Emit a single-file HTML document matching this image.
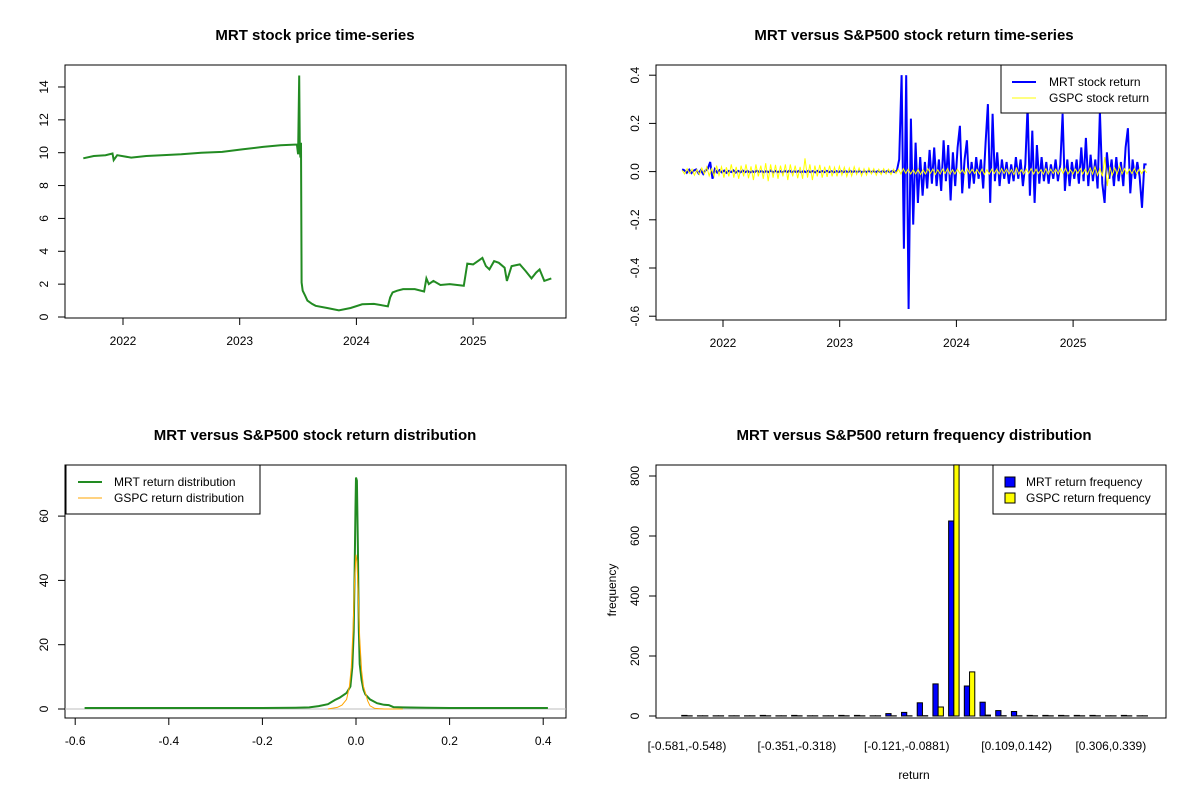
<!DOCTYPE html>
<html><head><meta charset="utf-8"><style>
html,body{margin:0;padding:0;background:#fff}
svg{display:block;font-family:"Liberation Sans",Arial,sans-serif}
.t{font-weight:bold;font-size:15px;text-anchor:middle}
.tk{font-size:12px}
</style></head><body>
<svg id="c" width="1200" height="800" xmlns="http://www.w3.org/2000/svg"></svg>
<script>
// ---------- data ----------
const priceDates=[2021.66,2021.75,2021.85,2021.91,2021.92,2021.95,2022.07,2022.2,2022.33,2022.5,2022.67,2022.85,2023.02,2023.2,2023.35,2023.49,2023.50,2023.51,2023.515,2023.52,2023.525,2023.53,2023.54,2023.56,2023.58,2023.62,2023.65,2023.75,2023.85,2023.95,2024.05,2024.15,2024.27,2024.29,2024.31,2024.35,2024.40,2024.5,2024.58,2024.60,2024.62,2024.66,2024.72,2024.8,2024.92,2024.95,2025.0,2025.08,2025.11,2025.14,2025.18,2025.22,2025.27,2025.29,2025.33,2025.4,2025.45,2025.50,2025.54,2025.57,2025.61,2025.67];
const priceValues=[9.66,9.8,9.85,9.95,9.55,9.85,9.7,9.8,9.85,9.9,10.0,10.05,10.2,10.35,10.45,10.5,9.9,14.7,10.2,9.7,10.6,2.1,1.6,1.3,1.0,0.8,0.68,0.55,0.4,0.55,0.77,0.8,0.65,1.2,1.5,1.6,1.7,1.7,1.55,2.35,2.0,2.2,1.95,2.0,1.9,3.25,3.2,3.6,3.1,2.9,3.4,3.3,3.0,2.2,3.1,3.2,2.8,2.35,2.7,2.9,2.2,2.35];
const retStart=2021.65, retEnd=2025.63;
const mrtReturns=[0.01,0.005,-0.005,0.008,-0.006,0.004,0.009,-0.007,0.006,-0.01,0.005,0.012,0.04,-0.03,0.01,-0.004,0.006,-0.003,0.004,-0.005,0.003,-0.002,0.005,-0.004,0.003,-0.003,0.004,-0.002,0.003,-0.004,0.002,-0.003,0.004,-0.002,0.003,-0.003,0.002,-0.002,0.004,-0.003,0.003,-0.002,0.002,-0.003,0.003,-0.002,0.004,-0.003,0.002,-0.002,0.003,-0.003,0.002,-0.002,0.003,-0.002,0.002,-0.003,0.003,-0.002,0.002,-0.002,0.003,-0.002,0.002,-0.003,0.002,-0.002,0.003,-0.002,0.002,-0.002,0.003,-0.002,0.002,-0.002,0.003,-0.003,0.002,-0.002,0.003,-0.002,0.002,-0.002,0.003,-0.002,0.002,-0.002,0.003,-0.002,0.002,-0.002,0.004,
0.05,0.40,-0.32,0.40,-0.57,0.22,-0.22,0.12,-0.13,0.06,-0.10,0.04,-0.07,0.09,-0.05,0.10,-0.06,0.05,-0.08,0.13,-0.04,0.11,-0.12,0.08,-0.06,0.10,0.19,-0.09,0.05,0.13,-0.07,0.04,-0.05,0.06,-0.03,0.05,-0.07,0.12,0.28,-0.13,0.24,-0.04,0.08,-0.06,0.05,-0.03,0.04,-0.05,0.03,-0.04,0.06,-0.03,0.05,-0.06,0.03,0.27,-0.10,0.17,-0.13,0.11,-0.05,0.06,-0.04,0.04,-0.05,0.03,-0.03,0.05,-0.04,0.03,0.24,-0.08,0.05,-0.06,0.04,-0.03,0.05,-0.05,0.10,-0.04,0.14,-0.06,0.07,-0.04,0.05,-0.07,0.25,-0.05,-0.13,0.08,-0.03,0.05,-0.06,0.06,-0.04,0.04,-0.06,0.10,0.18,-0.09,0.05,-0.03,0.04,-0.02,-0.15,0.03,0.03];
const gspcReturns=[0.005,-0.01,0.012,-0.008,0.01,-0.015,0.008,-0.012,0.015,-0.01,0.02,-0.018,0.012,-0.02,0.025,-0.015,0.02,-0.025,0.018,-0.02,0.03,-0.025,0.02,-0.03,0.025,-0.02,0.03,-0.028,0.022,-0.035,0.03,-0.02,0.025,-0.03,0.035,-0.04,0.03,-0.025,0.028,-0.03,0.025,-0.02,0.03,-0.035,0.03,-0.02,0.025,-0.028,0.02,-0.03,0.055,-0.025,0.03,-0.035,0.025,-0.02,0.028,-0.025,0.02,-0.022,0.025,-0.02,0.018,-0.02,0.022,-0.015,0.018,-0.02,0.015,-0.018,0.02,-0.012,0.015,-0.018,0.012,-0.015,0.015,-0.01,0.012,-0.015,0.01,-0.012,0.012,-0.01,0.01,-0.012,0.01,-0.008,0.01,-0.01,0.012,-0.008,0.01,-0.01,0.008,-0.01,0.01,-0.012,0.008,-0.01,0.012,-0.008,0.01,-0.012,0.008,-0.01,0.01,-0.008,0.012,-0.01,0.008,-0.01,0.01,-0.008,0.008,-0.01,0.012,-0.008,0.01,-0.008,0.008,-0.01,0.01,-0.012,0.008,-0.01,0.01,-0.008,0.01,-0.01,0.012,-0.008,0.01,-0.01,0.008,-0.012,0.015,-0.01,0.008,-0.01,0.01,-0.008,0.012,-0.01,0.01,-0.008,0.008,-0.01,0.012,-0.01,0.01,-0.008,0.01,-0.01,0.012,-0.008,0.015,-0.01,0.008,-0.01,0.01,-0.008,0.012,-0.01,0.01,-0.012,0.015,-0.01,0.02,-0.015,0.012,-0.02,0.06,-0.06,0.02,-0.015,0.015,-0.01,0.025,-0.01,0.012,-0.01,0.01,-0.008,0.012,-0.01,0.01,-0.008,0.01,-0.005];
const densX=[-0.58,-0.5,-0.4,-0.3,-0.2,-0.13,-0.1,-0.08,-0.06,-0.045,-0.035,-0.02,-0.012,-0.008,-0.005,-0.003,-0.001,0,0.002,0.004,0.006,0.008,0.012,0.016,0.02,0.03,0.045,0.06,0.07,0.08,0.1,0.15,0.2,0.3,0.41];
const mrtDensity=[0.3,0.3,0.3,0.3,0.3,0.4,0.5,0.9,1.5,2.8,3.5,5,7,13,24,42,63,72,71,50,25,14,9,6,4.5,3,1.8,1.3,1.2,0.6,0.5,0.4,0.3,0.3,0.3];
const gspcX=[-0.06,-0.04,-0.03,-0.02,-0.014,-0.01,-0.006,-0.003,0,0.002,0.005,0.008,0.012,0.016,0.02,0.025,0.03,0.04,0.06,0.1];
const gspcDensity=[0,0.5,1.2,3,7,13,26,40,48,46,35,22,12,7,5,2.5,1,0.2,0,0];
const mrtCounts=[2,0,0,0,0,2,0,2,0,0,2,2,0,8,12,44,107,650,100,46,18,15,2,2,2,2,2,0,2,0];
const gspcCounts=[0,0,0,0,0,0,0,0,0,0,0,0,0,0,0,1,30,837,147,3,1,0,0,0,0,0,0,0,0,0];
const binLabelIdx=[0,7,14,21,27];
const binLabels=["[-0.581,-0.548)","[-0.351,-0.318)","[-0.121,-0.0881)","[0.109,0.142)","[0.306,0.339)"];
const yearTicks=[2022,2023,2024,2025];

// ---------- helpers ----------
const svg=document.getElementById('c');
const NS='http://www.w3.org/2000/svg';
function mk(tag,attrs,parent){const e=document.createElementNS(NS,tag);for(const k in attrs)e.setAttribute(k,attrs[k]);(parent||svg).appendChild(e);return e;}
function txt(s,x,y,cls,extra,parent){const e=mk('text',Object.assign({x:x,y:y,class:cls},extra||{}),parent);e.textContent=s;return e;}
function box(x0,y0,x1,y1,name){const r=mk('rect',{x:x0,y:y0,width:x1-x0,height:y1-y0,fill:'none',stroke:'#000','stroke-width':1});

}
function yAxis(ticks,fy,x,labels,name){const g=mk('g',{});


mk('line',{x1:x,x2:x,y1:fy(ticks[0]),y2:fy(ticks[ticks.length-1]),stroke:'#000'},g);
ticks.forEach((t,i)=>{const y=fy(t);mk('line',{x1:x-7,x2:x,y1:y,y2:y,stroke:'#000'},g);
txt(labels[i],x-17,y,'tk',{'text-anchor':'middle',transform:`rotate(-90 ${x-17} ${y})`},g);});}
function xAxis(ticks,fx,y,labels,name){const g=mk('g',{});


mk('line',{y1:y,y2:y,x1:fx(ticks[0]),x2:fx(ticks[ticks.length-1]),stroke:'#000'},g);
ticks.forEach((t,i)=>{const x=fx(t);mk('line',{x1:x,x2:x,y1:y,y2:y+7,stroke:'#000'},g);
txt(labels[i],x,y+27,'tk',{'text-anchor':'middle'},g);});}
function line(xs,ys,color,w,name){const p=mk('polyline',{points:xs.map((x,i)=>x.toFixed(1)+','+ys[i].toFixed(1)).join(' '),fill:'none',stroke:color,'stroke-width':w,'stroke-linejoin':'miter'});

}

// ---------- panel 1 ----------
const fx1=v=>123+(v-2022)*116.7, fy1=v=>317-v*16.43;
txt('MRT stock price time-series',315,40,'t');
box(65,65,566,318,'price-plot-frame');
yAxis([0,2,4,6,8,10,12,14],fy1,65,['0','2','4','6','8','10','12','14'],'price-y-axis');
xAxis(yearTicks,fx1,318,yearTicks.map(String),'price-x-axis');
line(priceDates.map(fx1),priceValues.map(fy1),'#228B22',2,'mrt-price-line');

// ---------- panel 2 ----------
const fx2=v=>723+(v-2022)*116.7, fy2=v=>171.6-v*241;
const dateAt=(i,n)=>retStart+(retEnd-retStart)*i/(n-1);
txt('MRT versus S&P500 stock return time-series',914,40,'t');
box(656,65,1166,320,'return-plot-frame');
yAxis([-0.6,-0.4,-0.2,0,0.2,0.4],fy2,656,['-0.6','-0.4','-0.2','0.0','0.2','0.4'],'return-y-axis');
xAxis(yearTicks,fx2,320,yearTicks.map(String),'return-x-axis');
line(mrtReturns.map((v,i)=>fx2(dateAt(i,mrtReturns.length))),mrtReturns.map(fy2),'#0000FF',2,'mrt-return-line');
line(gspcReturns.map((v,i)=>fx2(dateAt(i,gspcReturns.length))),gspcReturns.map(fy2),'#FFFF00',1,'gspc-return-line');
(function(){const g=mk('g',{});


mk('rect',{x:1001,y:65,width:165,height:48,fill:'#fff',stroke:'#000'},g);
mk('line',{x1:1012,x2:1036,y1:82,y2:82,stroke:'#0000FF','stroke-width':2},g);
mk('line',{x1:1012,x2:1036,y1:98,y2:98,stroke:'#FFFF00','stroke-width':1},g);
txt('MRT stock return',1049,86,'tk',{},g);txt('GSPC stock return',1049,102,'tk',{},g);})();

// ---------- panel 3 ----------
const fx3=v=>356+v*468, fy3=v=>709-v*3.215;
txt('MRT versus S&P500 stock return distribution',315,440,'t');
box(65,465,566,718,'density-plot-frame');
yAxis([0,20,40,60],fy3,65,['0','20','40','60'],'density-y-axis');
xAxis([-0.6,-0.4,-0.2,0,0.2,0.4],fx3,718,['-0.6','-0.4','-0.2','0.0','0.2','0.4'],'density-x-axis');
(function(){const l=mk('line',{x1:65,x2:566,y1:fy3(0),y2:fy3(0),stroke:'#bebebe'});

})();
line(densX.map(fx3),mrtDensity.map(fy3),'#228B22',2,'mrt-density-line');
line(gspcX.map(fx3),gspcDensity.map(fy3),'#FFA500',1,'gspc-density-line');
(function(){const g=mk('g',{});


mk('rect',{x:66,y:465,width:194,height:49,fill:'#fff',stroke:'#000'},g);
mk('line',{x1:78,x2:102,y1:482,y2:482,stroke:'#228B22','stroke-width':2},g);
mk('line',{x1:78,x2:102,y1:498,y2:498,stroke:'#FFA500','stroke-width':1},g);
txt('MRT return distribution',114,486,'tk',{},g);txt('GSPC return distribution',114,502,'tk',{},g);})();

// ---------- panel 4 ----------
const u=5.233, bx=i=>676.5+(3*i+1)*u, fy4=v=>716-v*0.3;
txt('MRT versus S&P500 return frequency distribution',914,440,'t');
box(656,465,1166,718,'histogram-plot-frame');
yAxis([0,200,400,600,800],fy4,656,['0','200','400','600','800'],'frequency-y-axis');
mrtCounts.forEach((c,i)=>{const h=Math.max(716-fy4(c),0.2);const r=mk('rect',{x:bx(i),y:716-h,width:u,height:h,fill:'#0000FF',stroke:'#000','stroke-width':1});

});
gspcCounts.forEach((c,i)=>{const h=Math.max(716-fy4(c),0.2);const r=mk('rect',{x:bx(i)+u,y:716-h,width:u,height:h,fill:'#FFFF00',stroke:'#000','stroke-width':1});

});
binLabelIdx.forEach((b,k)=>{const t=txt(binLabels[k],bx(b)+u,750,'tk',{'text-anchor':'middle'});

});
txt('return',914,779,'tk',{'text-anchor':'middle',});
txt('frequency',616,590,'tk',{'text-anchor':'middle',transform:'rotate(-90 616 590)',});
(function(){const g=mk('g',{});


mk('rect',{x:993,y:465,width:173,height:49,fill:'#fff',stroke:'#000'},g);
mk('rect',{x:1005,y:477,width:10,height:10,fill:'#0000FF',stroke:'#000'},g);
mk('rect',{x:1005,y:493,width:10,height:10,fill:'#FFFF00',stroke:'#000'},g);
txt('MRT return frequency',1026,486,'tk',{},g);txt('GSPC return frequency',1026,502,'tk',{},g);})();
</script>
</body></html>
